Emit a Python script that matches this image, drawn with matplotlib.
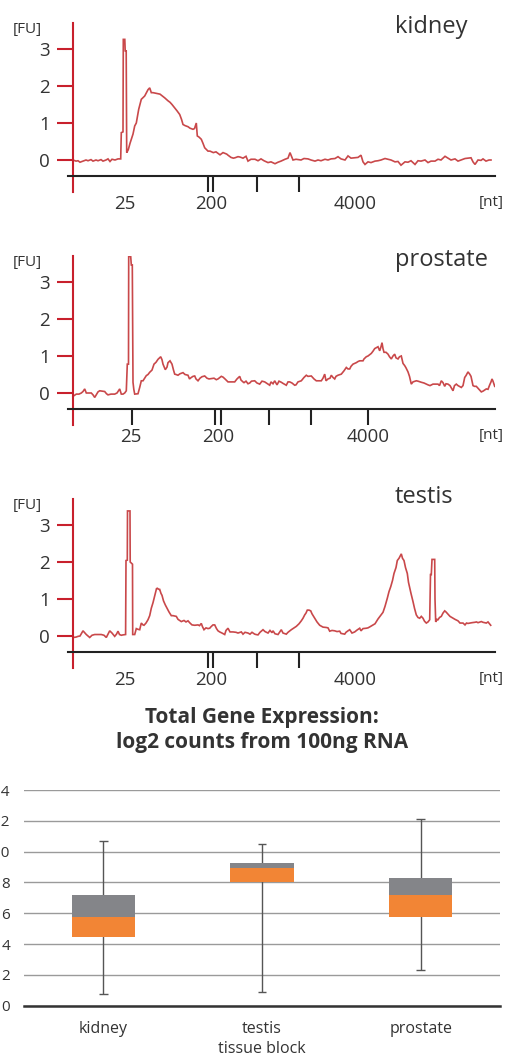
import matplotlib
matplotlib.use("Agg")
import matplotlib.pyplot as plt

plt.rcParams['font.family'] = ['Open Sans', 'DejaVu Sans']

W, H = 507, 1055

# ---------------- Electropherogram data (x: migration position, y: [FU]) ----------------
kidney_x = [5, 8, 10, 12, 15, 18, 20, 23, 25, 28, 30, 33, 35, 38, 40, 42, 44, 47, 50, 52.7, 53.3, 55, 55.3, 56.8,
            57.2, 58.2, 58.7, 60.3, 62, 63.3, 65, 66.7, 68.3, 70.7, 73.3, 76.7, 80, 81.7, 83.3, 85, 88.3, 92, 96.7,
            100, 102, 104, 106.7, 109, 111.7, 113.5, 115, 117, 120, 122, 125, 126.5, 128.3, 129.3, 131, 133.3, 135,
            136.7, 140, 142, 145.3, 148, 150, 152, 155, 158.7, 160, 163, 165.3, 167, 170, 172, 175, 178, 180, 183,
            187, 190, 193, 196, 200, 203, 207, 210, 213, 217, 220, 222, 223.5, 225, 228, 233, 236, 240, 243, 247,
            250, 253, 257, 260, 263, 267, 270, 273, 277, 280, 283, 287, 290, 293, 295, 297, 300, 303, 307, 310,
            313, 317, 320, 323, 327, 330, 333, 337, 340, 343, 347, 350, 353, 357, 360, 363, 367, 370, 373, 377,
            380, 383, 387, 390, 393, 397, 400, 403, 405, 407, 410, 413, 415, 418, 421, 423]
kidney_fu = [0.0, -0.03, -0.02, -0.06, -0.03, 0.0, -0.02, 0.01, -0.03, 0.0, -0.02, 0.01, -0.03, 0.0, 0.03, -0.04,
             0.02, 0.0, 0.03, 0.03, 0.74, 0.76, 3.26, 3.26, 2.95, 2.95, 0.2, 0.28, 0.45, 0.56, 0.7, 0.92, 1.0,
             1.37, 1.64, 1.73, 1.9, 1.95, 1.82, 1.82, 1.8, 1.78, 1.68, 1.6, 1.56, 1.5, 1.41, 1.33, 1.23, 1.1, 0.96,
             0.93, 0.9, 0.86, 0.83, 0.85, 1.0, 0.65, 0.62, 0.56, 0.45, 0.33, 0.24, 0.24, 0.2, 0.22, 0.18, 0.14, 0.2,
             0.16, 0.13, 0.07, 0.05, 0.06, 0.09, 0.08, 0.05, 0.1, -0.03, 0.02, 0.02, -0.02, 0.03, -0.02, -0.07,
             -0.05, -0.1, -0.06, -0.03, 0.02, 0.05, 0.2, 0.1, 0.0, 0.02, 0.0, 0.04, 0.03, 0.0, -0.03, 0.0, -0.02,
             0.02, 0.0, 0.03, 0.04, 0.09, 0.03, 0.0, 0.11, 0.05, 0.06, 0.07, 0.13, -0.05, -0.12, -0.05, -0.07,
             -0.03, -0.02, 0.0, 0.04, 0.02, 0.0, -0.05, -0.04, -0.14, -0.05, -0.06, -0.02, -0.12, -0.02, -0.03,
             0.0, -0.07, -0.03, -0.03, 0.02, 0.0, 0.1, 0.05, 0.0, 0.03, -0.03, 0.0, 0.04, 0.05, 0.06, -0.05,
             -0.12, 0.0, -0.01, 0.03, -0.03, 0.0, 0.0]

prostate_x = [5, 8.3, 11, 13.3, 15, 16.7, 18.3, 21, 23.3, 25, 26.7, 28.5, 30, 31.7, 34, 36.7, 38.5, 40, 43, 46.7,
              49, 51.7, 53.3, 55, 56.7, 58.3, 59.3, 60.5, 60.7, 62.7, 63.3, 64.3, 65, 65.8, 66.7, 70, 71.7, 73.3,
              75, 78.3, 80, 81.7, 84, 86, 88, 90, 92.7, 94, 95, 97.3, 99, 100, 102, 104, 105.5, 106.7, 108, 110,
              112, 115, 117, 120, 121.5, 123.3, 125, 126.7, 128, 130, 132, 134, 136.7, 139, 141, 143.3, 146,
              148.3, 150, 153.3, 155, 157, 160, 162, 164, 166.7, 169, 171.7, 173, 175, 176, 178, 180, 181.7,
              183.5, 186.7, 189, 191.7, 194, 196.7, 199, 201.7, 203, 205, 206.7, 209, 211, 213.3, 215, 218.3, 220,
              221.7, 224, 226.7, 228, 230, 233.3, 236, 238.3, 240, 243.3, 246, 248.3, 250, 253.3, 255, 256.7, 258,
              260, 262, 263.3, 265, 266.7, 268, 270, 273.3, 276, 278.3, 280, 281.7, 283, 285, 288.3, 290, 291.7,
              295, 296, 298.3, 300, 303.3, 305, 306.7, 308, 310, 311.7, 313, 314, 315, 316, 318, 320, 321.5,
              323.3, 325, 326.7, 328, 330, 331.5, 333.3, 335, 336.7, 338, 340, 341.5, 343.3, 345, 348.3, 350,
              353.3, 356, 360, 362, 365, 367, 370, 371.5, 373.3, 375, 376.7, 378, 380, 382, 385, 386.5, 388.3,
              390, 393.3, 395, 396.7, 398, 400, 401.7, 403, 405, 406.5, 408.3, 410, 413.3, 415, 418.3, 420, 421.7,
              423, 424, 425, 426.7]
prostate_fu = [-0.09, -0.03, -0.03, 0.0, 0.04, 0.11, 0.0, 0.0, 0.0, -0.05, -0.12, -0.04, 0.03, 0.06, 0.05, 0.04,
               -0.02, -0.05, -0.03, -0.03, 0.0, 0.11, -0.03, -0.03, 0.0, 0.06, 0.78, 0.78, 3.69, 3.69, 3.46, 3.46,
               0.29, 0.1, -0.03, -0.02, 0.15, 0.33, 0.33, 0.47, 0.5, 0.56, 0.62, 0.78, 0.83, 0.91, 0.98, 0.9, 0.78,
               0.63, 0.7, 0.82, 0.87, 0.78, 0.62, 0.51, 0.5, 0.48, 0.52, 0.55, 0.5, 0.48, 0.38, 0.42, 0.45, 0.46,
               0.38, 0.33, 0.4, 0.44, 0.46, 0.4, 0.38, 0.39, 0.4, 0.36, 0.38, 0.45, 0.43, 0.38, 0.3, 0.3, 0.3, 0.3,
               0.38, 0.45, 0.35, 0.3, 0.28, 0.32, 0.25, 0.27, 0.32, 0.33, 0.27, 0.24, 0.32, 0.3, 0.26, 0.21, 0.3,
               0.25, 0.33, 0.22, 0.32, 0.29, 0.26, 0.21, 0.3, 0.3, 0.27, 0.21, 0.22, 0.3, 0.33, 0.42, 0.48, 0.45,
               0.46, 0.38, 0.33, 0.33, 0.33, 0.4, 0.51, 0.33, 0.38, 0.4, 0.48, 0.42, 0.38, 0.45, 0.48, 0.51, 0.6,
               0.69, 0.65, 0.65, 0.72, 0.78, 0.82, 0.85, 0.87, 0.87, 0.92, 0.98, 1.0, 1.07, 1.13, 1.2, 1.22, 1.25,
               1.14, 1.25, 1.36, 1.2, 1.1, 1.1, 1.05, 0.98, 0.92, 1.0, 1.05, 0.95, 0.92, 0.98, 1.0, 0.8, 0.74, 0.68,
               0.57, 0.45, 0.24, 0.3, 0.33, 0.32, 0.29, 0.27, 0.22, 0.2, 0.24, 0.24, 0.24, 0.2, 0.33, 0.28, 0.18,
               0.25, 0.24, 0.2, 0.06, 0.2, 0.24, 0.2, 0.15, 0.2, 0.42, 0.47, 0.57, 0.51, 0.45, 0.2, 0.18, 0.18,
               0.13, 0.03, 0.05, 0.11, 0.1, 0.22, 0.3, 0.38, 0.32, 0.18]

testis_x = [5, 8, 10, 12, 15, 17, 18.3, 20, 21.7, 24, 26.7, 30, 33.3, 36, 38.3, 40, 41.7, 44, 46.7, 48.5, 50,
            51.5, 53.3, 55, 57.6, 58, 59.3, 59.5, 62, 62.2, 64.5, 64.7, 66.7, 68.3, 70, 71.7, 73.3, 75, 76, 78,
            80, 81.7, 83.3, 85, 87.3, 88.5, 89.3, 91, 91.7, 93, 94, 95.5, 97.3, 99, 101, 103.3, 105, 108.3, 110,
            113.3, 116, 118, 120, 122, 124, 126.7, 130, 131.5, 133.3, 134.5, 136, 138, 140, 141.7, 143, 145,
            146.7, 148.5, 150, 151.7, 154, 156.7, 158, 160, 162, 165, 168, 170, 173.3, 175, 177, 180, 182, 184,
            186.7, 188, 190, 192, 195, 197, 200, 202, 204, 205, 207, 210, 212, 213.3, 215, 218.3, 220, 223.3,
            225, 228.3, 231, 233.3, 235, 236.7, 238, 239.3, 241, 242.7, 244, 246.7, 249, 251.7, 255, 258.3, 260,
            261.7, 264, 266.7, 269, 271.7, 273, 276.7, 278, 280, 281.7, 284, 286.7, 289, 291.7, 293, 295, 298.3,
            300, 302, 305, 307, 310, 312.5, 315, 317, 319.3, 321, 322.7, 324.5, 326, 328, 329.3, 331, 333.3,
            334.5, 336, 337.5, 339.3, 340.5, 341.7, 343, 345, 346.5, 348.3, 350, 351.7, 353.3, 355, 356.5,
            358.3, 360, 361.7, 362.5, 363.3, 364, 366.7, 367, 367.7, 369, 370, 371.5, 373.3, 375, 376.7, 378,
            380, 382, 385, 387, 390, 392, 395, 397, 398.5, 400, 402, 404, 406.7, 408.5, 410, 413.3, 415, 418.3,
            420, 422.7]
testis_fu = [-0.04, -0.03, -0.01, 0.0, 0.14, 0.08, 0.04, 0.0, -0.04, 0.02, 0.04, 0.04, 0.04, 0.02, -0.04, 0.05,
             0.14, 0.08, -0.01, 0.05, 0.13, 0.04, 0.02, 0.03, 0.04, 2.04, 2.05, 3.38, 3.38, 2.0, 1.94, 0.04, 0.04,
             0.2, 0.18, 0.17, 0.35, 0.3, 0.29, 0.35, 0.44, 0.55, 0.75, 0.9, 1.15, 1.28, 1.29, 1.26, 1.26, 1.15,
             1.1, 0.95, 0.84, 0.75, 0.65, 0.55, 0.55, 0.53, 0.45, 0.39, 0.42, 0.38, 0.41, 0.35, 0.3, 0.29, 0.3,
             0.28, 0.34, 0.25, 0.17, 0.22, 0.2, 0.21, 0.25, 0.3, 0.3, 0.2, 0.14, 0.11, 0.08, 0.04, 0.15, 0.21,
             0.11, 0.11, 0.1, 0.08, 0.11, 0.05, 0.1, 0.08, 0.05, 0.1, 0.05, 0.04, 0.03, 0.1, 0.17, 0.12, 0.08,
             0.15, 0.09, 0.14, 0.06, 0.04, 0.12, 0.17, 0.08, 0.05, 0.1, 0.17, 0.2, 0.26, 0.33, 0.41, 0.48, 0.57,
             0.62, 0.7, 0.7, 0.68, 0.6, 0.48, 0.38, 0.29, 0.24, 0.23, 0.22, 0.13, 0.15, 0.14, 0.12, 0.13, 0.07,
             0.05, 0.1, 0.14, 0.17, 0.08, 0.11, 0.16, 0.21, 0.14, 0.2, 0.21, 0.22, 0.25, 0.3, 0.33, 0.46, 0.55,
             0.64, 0.8, 1.02, 1.2, 1.33, 1.5, 1.69, 1.85, 2.04, 2.1, 2.22, 2.1, 2.04, 1.85, 1.69, 1.45, 1.3, 1.15,
             0.93, 0.75, 0.57, 0.5, 0.48, 0.53, 0.48, 0.4, 0.35, 0.38, 0.44, 1.66, 1.66, 2.07, 2.07, 1.0, 0.38,
             0.45, 0.44, 0.5, 0.53, 0.62, 0.68, 0.65, 0.59, 0.53, 0.48, 0.45, 0.41, 0.35, 0.35, 0.3, 0.35, 0.34,
             0.35, 0.36, 0.37, 0.38, 0.36, 0.39, 0.37, 0.35, 0.38, 0.29]

tissues = ['kidney', 'prostate', 'testis']
traces = {'kidney': (kidney_x, kidney_fu), 'prostate': (prostate_x, prostate_fu), 'testis': (testis_x, testis_fu)}
fu_ticks = [0, 1, 2, 3]
ladder_labels = ['25', '200', '4000']
ladder_label_pos = {'kidney': [57, 143.5, 287], 'prostate': [63.3, 150, 300.3], 'testis': [57, 143.5, 287]}
ladder_tick_pos = {'kidney': [57, 139.5, 145.3, 189.3, 231.3, 287],
                   'prostate': [64, 147, 153, 201, 243, 300],
                   'testis': [57, 139.5, 145.3, 189.3, 231.3, 287]}

# ---------------- Box chart data ----------------
box_cats = ['kidney', 'testis', 'prostate']
whisker_low = [0.74, 0.89, 2.32]
q1 = [4.48, 8.05, 5.78]
median = [5.74, 8.94, 7.19]
q3 = [7.19, 9.25, 8.27]
whisker_high = [10.7, 10.5, 12.1]
box_yticks = [0, 2, 4, 6, 8, 10, 12, 14]

RED = '#c8202d'
TRACE = '#c9484a'
TXT = '#333333'
GRAY = '#848589'
ORANGE = '#f28535'

fig = plt.figure(figsize=(W / 100, H / 100), dpi=100)

px_per_fu = 37.0
ymin, ymax = -0.86, 3.7
xaxis_y = -0.43
zero_px = {'kidney': 160, 'prostate': 393, 'testis': 636}
title_base = {'kidney': 3.43, 'prostate': 3.43, 'testis': 3.6}

for name in tissues:
    z = zero_px[name]
    top = z - ymax * px_per_fu
    bottom = z - ymin * px_per_fu
    ax = fig.add_axes([68 / W, 1 - bottom / H, 427 / W, (bottom - top) / H])
    xs, ys = traces[name]
    ax.plot(xs, ys, color=TRACE, lw=1.2, solid_joinstyle='miter')
    ax.set_xlim(0, 427)
    ax.set_ylim(ymin, ymax)
    ax.patch.set_visible(False)
    for s in ['top', 'right']:
        ax.spines[s].set_visible(False)
    ax.spines['left'].set_position(('data', 4.7))
    ax.spines['left'].set_color(RED)
    ax.spines['left'].set_linewidth(1.5)
    ax.spines['bottom'].set_position(('data', xaxis_y))
    ax.spines['bottom'].set_color('#222222')
    ax.spines['bottom'].set_linewidth(1.5)
    ax.set_yticks(fu_ticks)
    ax.set_yticklabels([str(t) for t in fu_ticks])
    ax.tick_params(axis='y', color=RED, labelcolor=TXT, length=11.5, width=1.5, pad=5, labelsize=13.5)
    ax.set_xticks(ladder_label_pos[name])
    ax.set_xticklabels(ladder_labels)
    ax.set_xticks(ladder_tick_pos[name], minor=True)
    ax.tick_params(axis='x', which='major', length=0, pad=14, labelsize=13.5, labelcolor=TXT)
    ax.tick_params(axis='x', which='minor', length=11.5, width=1.5, color='#222222')
    ax.text(-55, ymax - 6 / px_per_fu, '[FU]', ha='left', va='center', fontsize=11, color=TXT, clip_on=False)
    ax.text(411, xaxis_y - 27 / px_per_fu, '[nt]', ha='left', va='center', fontsize=11, color=TXT, clip_on=False)
    ax.text(327, title_base[name], name, ha='left', va='baseline', fontsize=17, color=TXT)

# ---------------- Box chart ----------------
bx = fig.add_axes([24 / W, 1 - 1005.7 / H, 476 / W, (1005.7 - 790) / H])
pos = list(range(len(box_cats)))
bx.vlines(pos, whisker_low, whisker_high, color='#555555', lw=1, zorder=3)
bx.hlines(whisker_low, [p - 0.027 for p in pos], [p + 0.027 for p in pos], color='#555555', lw=1, zorder=3)
bx.hlines(whisker_high, [p - 0.027 for p in pos], [p + 0.027 for p in pos], color='#555555', lw=1, zorder=3)
bx.bar(pos, [m - a for m, a in zip(median, q1)], bottom=q1, width=0.4, color=ORANGE, zorder=4)
bx.bar(pos, [b - m for b, m in zip(q3, median)], bottom=median, width=0.4, color=GRAY, zorder=4)
bx.set_xlim(-0.5, 2.5)
bx.set_ylim(0, 14)
bx.set_yticks(box_yticks)
bx.set_yticklabels([str(t) for t in box_yticks])
bx.yaxis.grid(True, color='#9a9a9a', lw=1)
bx.set_axisbelow(True)
for s in ['top', 'right', 'left']:
    bx.spines[s].set_visible(False)
bx.spines['bottom'].set_color('#333333')
bx.spines['bottom'].set_linewidth(1.8)
bx.tick_params(axis='y', length=0, pad=10, labelsize=11, labelcolor=TXT)
bx.set_xticks(pos)
bx.set_xticklabels(box_cats)
bx.tick_params(axis='x', length=0, pad=11, labelsize=11.5, labelcolor=TXT)
bx.set_xlabel('tissue block', fontsize=11.5, color=TXT, labelpad=3)
bx.set_title('Total Gene Expression:\nlog2 counts from 100ng RNA', fontsize=15, fontweight='bold',
             color=TXT, linespacing=1.3, pad=30)

fig.savefig('out.png', dpi=100)
